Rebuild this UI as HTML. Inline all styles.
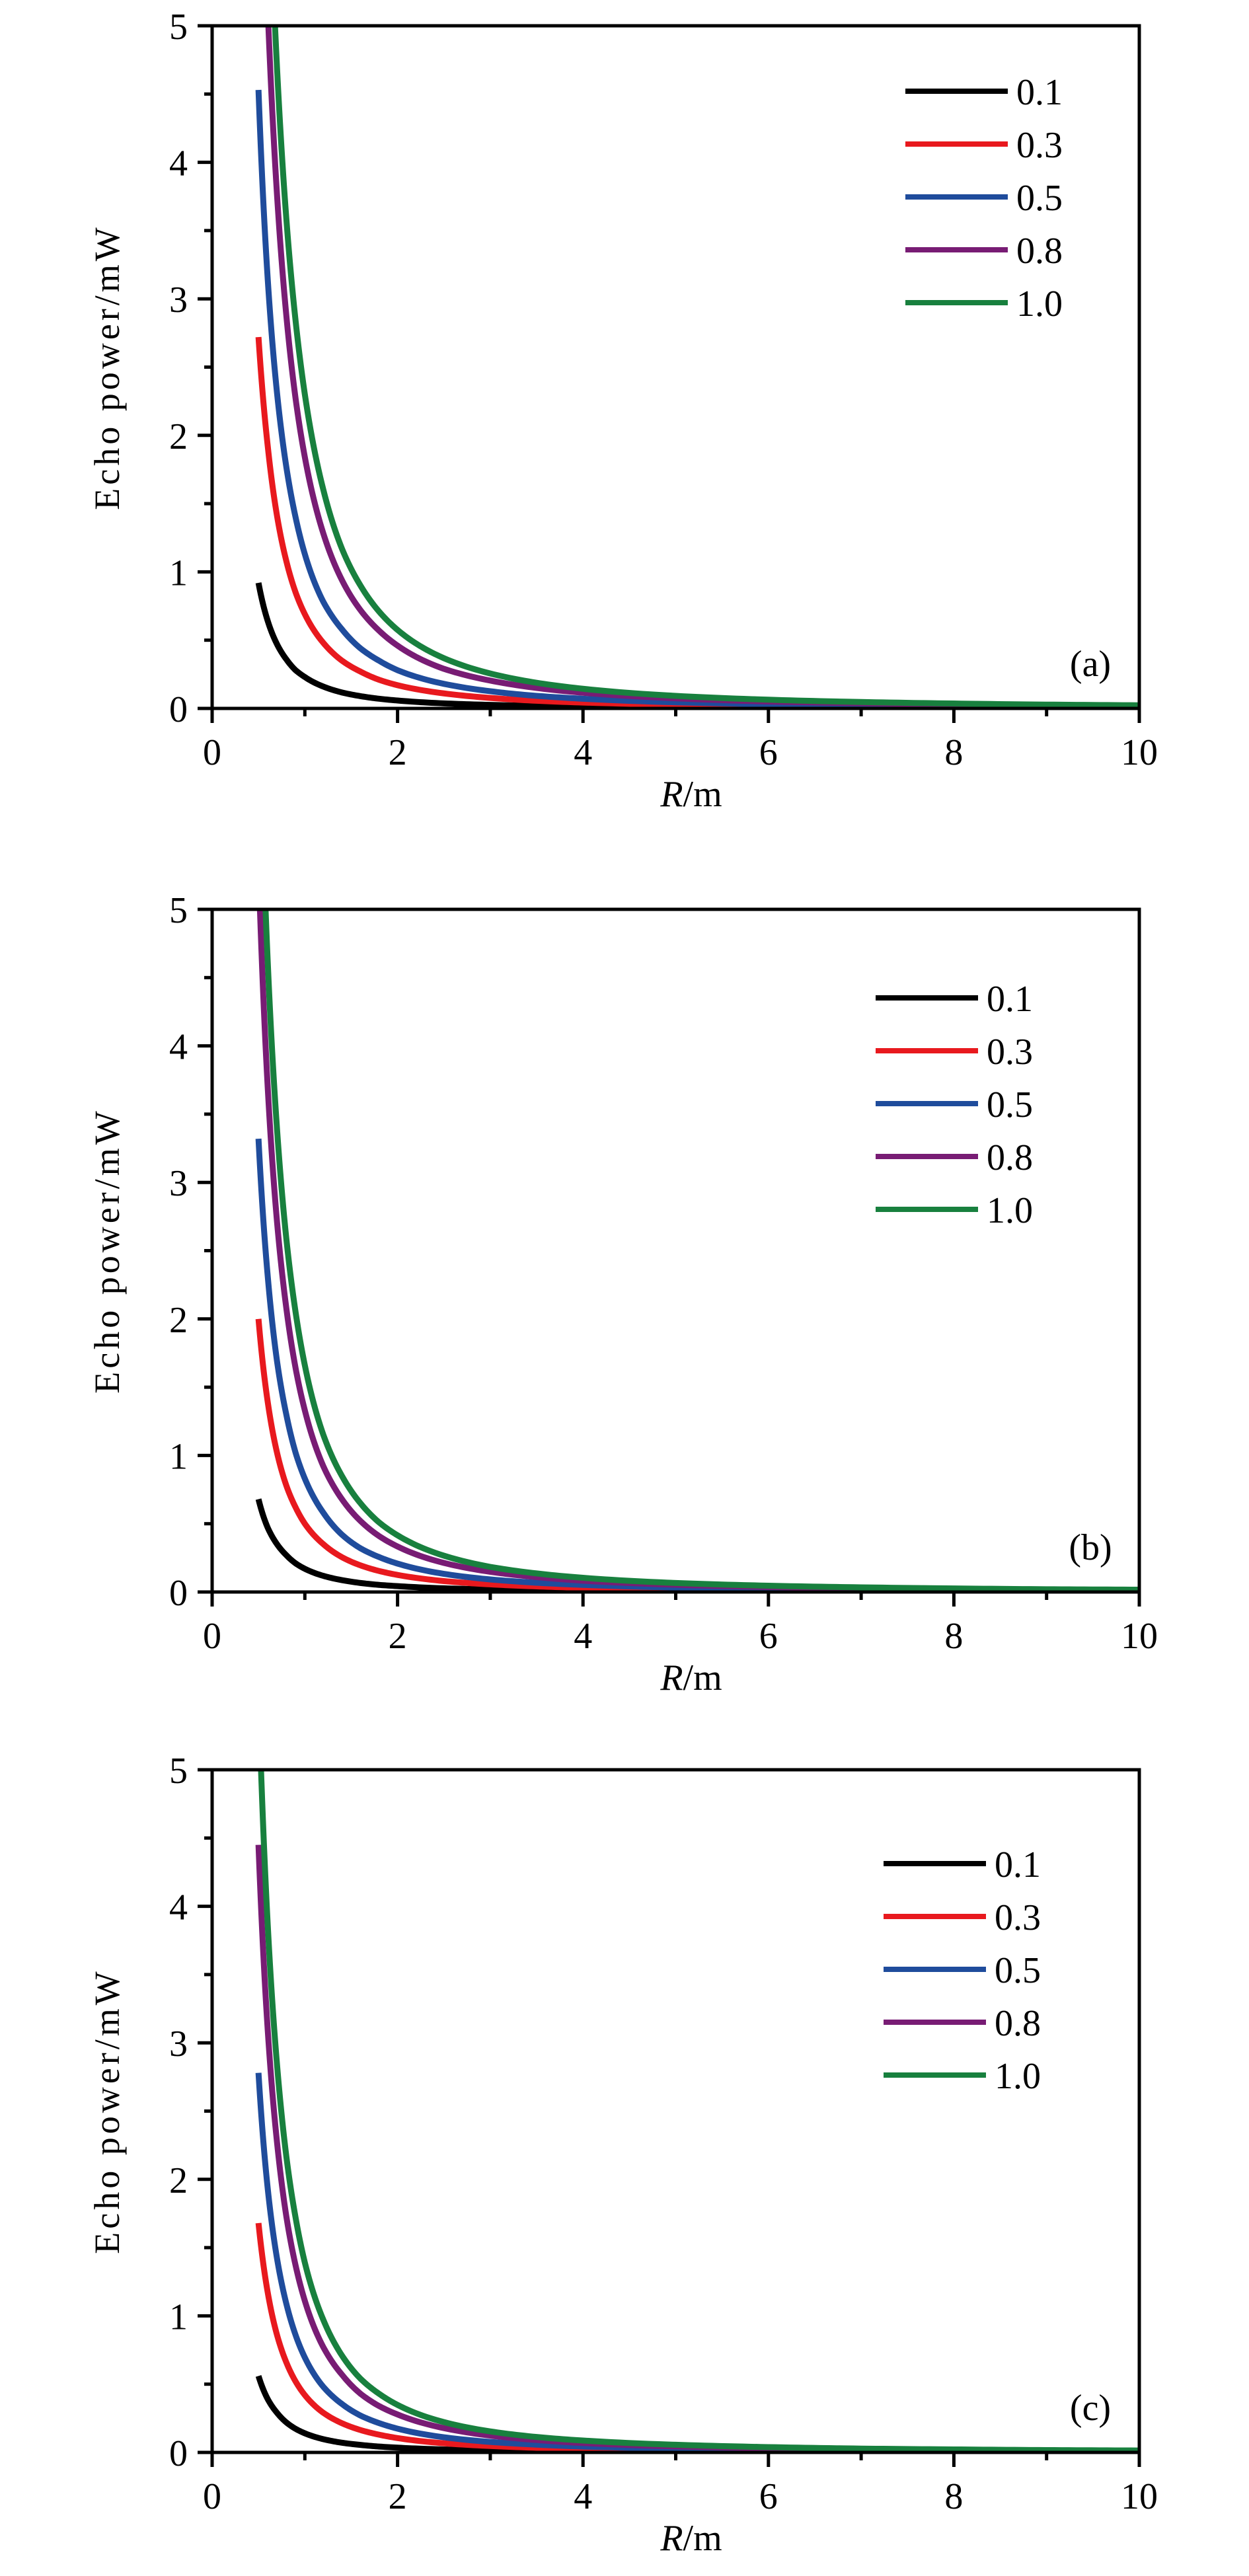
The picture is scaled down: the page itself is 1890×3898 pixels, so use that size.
<!DOCTYPE html>
<html><head><meta charset="utf-8"><style>
html,body{margin:0;padding:0;background:#fff;}
svg{display:block;}
text{font-family:"Liberation Serif",serif;fill:#000;}
</style></head><body>
<svg id="fig" width="1890" height="3898" viewBox="0 0 1890 3898" xmlns="http://www.w3.org/2000/svg"></svg>
<script>
const rSamples=[0.5,0.6,0.7,0.8,0.9,1.0,1.2,1.4,1.6,1.8,2.0,2.5,3,3.5,4,5,6,7,8,9,10];
const seriesLabels=["0.1","0.3","0.5","0.8","1.0"];
const xTicks=[0,2,4,6,8,10];
const yTicks=[0,1,2,3,4,5];
const panelA=[
[0.92,0.64,0.47,0.36,0.28,0.23,0.16,0.117,0.09,0.071,0.058,0.037,0.026,0.019,0.014,0.009,0.006,0.005,0.004,0.003,0.002],
[2.72,1.92,1.41,1.08,0.85,0.69,0.48,0.35,0.27,0.21,0.17,0.11,0.077,0.056,0.043,0.028,0.019,0.014,0.011,0.009,0.007],
[4.53,3.14,2.31,1.77,1.40,1.13,0.78,0.58,0.44,0.35,0.28,0.18,0.126,0.092,0.071,0.045,0.031,0.023,0.018,0.014,0.011],
[7.36,5.11,3.76,2.88,2.27,1.84,1.28,0.94,0.72,0.57,0.46,0.29,0.204,0.150,0.115,0.074,0.051,0.038,0.029,0.023,0.018],
[9.2,6.39,4.69,3.59,2.84,2.30,1.60,1.17,0.90,0.71,0.575,0.368,0.256,0.188,0.144,0.092,0.064,0.047,0.036,0.028,0.023]];
const panelB=[
[0.68,0.47,0.35,0.27,0.21,0.17,0.118,0.087,0.066,0.052,0.043,0.027,0.019,0.014,0.011,0.007,0.005,0.003,0.003,0.002,0.002],
[2.0,1.39,1.02,0.78,0.62,0.50,0.35,0.255,0.195,0.154,0.125,0.08,0.056,0.041,0.031,0.02,0.014,0.01,0.008,0.006,0.005],
[3.32,2.31,1.69,1.30,1.02,0.83,0.58,0.42,0.32,0.256,0.208,0.133,0.092,0.068,0.052,0.033,0.023,0.017,0.013,0.010,0.008],
[5.32,3.69,2.71,2.08,1.64,1.33,0.92,0.68,0.52,0.41,0.333,0.213,0.148,0.109,0.083,0.053,0.037,0.027,0.021,0.016,0.013],
[6.64,4.61,3.39,2.59,2.05,1.66,1.15,0.85,0.65,0.51,0.415,0.266,0.184,0.136,0.104,0.066,0.046,0.034,0.026,0.020,0.017]];
const panelC=[
[0.56,0.39,0.29,0.22,0.173,0.14,0.097,0.071,0.055,0.043,0.035,0.022,0.016,0.011,0.009,0.006,0.004,0.003,0.002,0.002,0.001],
[1.68,1.17,0.86,0.66,0.52,0.42,0.29,0.214,0.164,0.13,0.105,0.067,0.047,0.034,0.026,0.017,0.012,0.009,0.007,0.005,0.004],
[2.78,1.93,1.42,1.09,0.86,0.695,0.48,0.355,0.27,0.215,0.174,0.111,0.077,0.057,0.043,0.028,0.019,0.014,0.011,0.009,0.007],
[4.45,3.09,2.27,1.73,1.37,1.11,0.77,0.57,0.43,0.34,0.278,0.178,0.123,0.091,0.069,0.044,0.031,0.023,0.017,0.014,0.011],
[5.56,3.86,2.84,2.17,1.72,1.39,0.97,0.71,0.54,0.43,0.348,0.222,0.154,0.113,0.087,0.056,0.039,0.028,0.022,0.017,0.014]];

const colors=["#000000","#e8191e","#1f4c9c","#781c74","#18803e"];
const NS="http://www.w3.org/2000/svg";
const svg=document.getElementById('fig');
function mk(tag,attrs,parent){const e=document.createElementNS(NS,tag);for(const k in attrs)e.setAttribute(k,attrs[k]);(parent||svg).appendChild(e);return e;}

const panels=[
 {data:panelA,top:39,bottom:1072,tag:"(a)",legX:1370,legY:138,labY:1005,id:"a"},
 {data:panelB,top:1376,bottom:2409,tag:"(b)",legX:1325,legY:1510,labY:2342,id:"b"},
 {data:panelC,top:2678,bottom:3711,tag:"(c)",legX:1337,legY:2820,labY:3644,id:"c"}];
const L=321,Rt=1724;

panels.forEach((p,pi)=>{
 const g=mk('g',{});
 
 
 const xs=v=>L+(Rt-L)*v/10;
 const ys=v=>p.bottom-(p.bottom-p.top)*v/5;
 const cp=mk('clipPath',{id:'clip'+pi},g);
 mk('rect',{x:L,y:p.top,width:Rt-L,height:p.bottom-p.top},cp);
 p.data.forEach((vals,si)=>{
  let d='';
  for(let i=0;i<rSamples.length-1;i++){
   const la=Math.log(rSamples[i]),lb=Math.log(rSamples[i+1]);
   const va=Math.log(vals[i]),vb=Math.log(vals[i+1]);
   const n=12;
   for(let k=(i===0?0:1);k<=n;k++){
    const t=k/n;
    const r=Math.exp(la+(lb-la)*t),v=Math.exp(va+(vb-va)*t);
    d+=(d?' L':'M')+xs(r).toFixed(2)+','+ys(v).toFixed(2);
   }
  }
  const path=mk('path',{d:d,fill:'none',stroke:colors[si],'stroke-width':9,'stroke-linejoin':'round','clip-path':'url(#clip'+pi+')'},g);
  
  
 });
 const fr=mk('rect',{x:L,y:p.top,width:Rt-L,height:p.bottom-p.top,fill:'none',stroke:'#000','stroke-width':5},g);
 
 
 for(let v=0;v<=10;v++){
  const len=(v%2===0)?22:12;
  mk('line',{x1:xs(v),x2:xs(v),y1:p.bottom,y2:p.bottom+len,stroke:'#000','stroke-width':5},g);
 }
 xTicks.forEach(v=>{
  const t=mk('text',{x:xs(v),y:p.bottom+85,'text-anchor':'middle','font-size':56},g);
  t.textContent=v;
  
  
 });
 for(let k=0;k<=10;k++){
  const v=k/2;const len=(k%2===0)?22:12;
  mk('line',{x1:L-len,x2:L,y1:ys(v),y2:ys(v),stroke:'#000','stroke-width':5},g);
 }
 yTicks.forEach(v=>{
  const t=mk('text',{x:284,y:ys(v)+20,'text-anchor':'end','font-size':56},g);
  t.textContent=v;
  
  
 });
 const xl=mk('text',{x:1046,y:p.bottom+148,'text-anchor':'middle','font-size':56},g);
 xl.innerHTML='<tspan font-style="italic">R</tspan>/m';
 
 
 const cy=(p.top+p.bottom)/2;
 const yl=mk('text',{x:0,y:0,'text-anchor':'middle','font-size':54,'letter-spacing':5,transform:'translate(180,'+cy+') rotate(-90)'},g);
 yl.textContent='Echo power/mW';
 
 
 const tg=mk('text',{x:1650,y:p.labY+18,'text-anchor':'middle','font-size':56},g);
 tg.textContent=p.tag;
 
 
 seriesLabels.forEach((lab,si)=>{
  const y=p.legY+si*80;
  const ln=mk('line',{x1:p.legX,x2:p.legX+155,y1:y,y2:y,stroke:colors[si],'stroke-width':8},g);
  
  
  const t=mk('text',{x:p.legX+168,y:y+20,'font-size':56},g);
  t.textContent=lab;
  
  
 });
});
</script>
</body></html>
